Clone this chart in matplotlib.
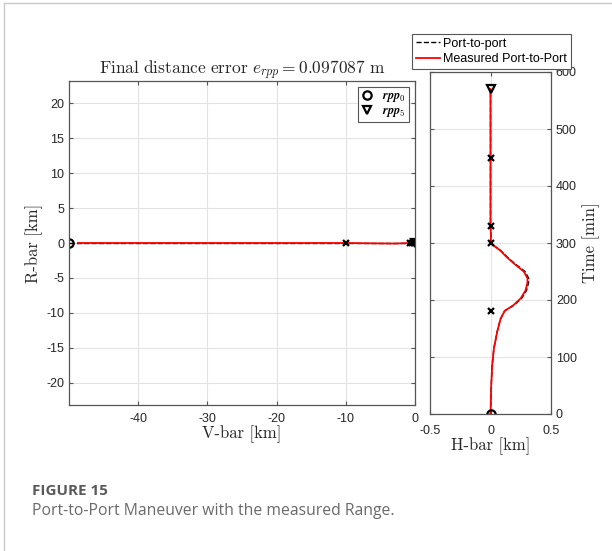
import matplotlib
matplotlib.use("Agg")
import matplotlib.pyplot as plt
from matplotlib.lines import Line2D
import numpy as np

plt.rcParams["mathtext.fontset"] = "cm"
plt.rcParams["font.family"] = ["Liberation Sans", "DejaVu Sans"]
plt.rcParams["axes.unicode_minus"] = False

# ---- trajectory in the V-bar / R-bar plane [km] ----
vbar_ref = [-50.0, -30.0, -10.0, -3.0, -0.7, -0.4, -0.15, 0.0]
rbar_ref = [0.0, 0.0, 0.0, 0.0, 0.0, 0.0, 0.0, 0.0]
vbar_meas = [-48.7, -30.0, -10.0, -3.0, -0.7, -0.4, -0.15, 0.0]
rbar_meas = [0.0, 0.0, 0.0, -0.08, 0.0, 0.0, 0.0, 0.0]

# waypoints rpp0..rpp5
wp_vbar = [-50.0, -10.0, -0.7, -0.4, -0.15, 0.0]
wp_rbar = [0.0, 0.0, 0.0, 0.0, 0.0, 0.0]
wp_time = [0, 180, 300, 330, 450, 570]
wp_hbar = [0.0, 0.0, 0.0, 0.0, 0.0, 0.0]

# ---- cross-track H-bar [km] over time [min] ----
t_ref = [0, 50, 85, 115, 145, 167, 181, 191, 203, 217, 230, 238, 250, 264,
         275, 287, 295, 300, 310, 330, 450, 570]
h_ref = [0.0, 0.006, 0.014, 0.028, 0.056, 0.083, 0.118, 0.195, 0.258, 0.298,
         0.314, 0.316, 0.285, 0.2, 0.14, 0.083, 0.03, 0.0, 0.004, 0.0, 0.0, 0.0]
t_meas = [0, 50, 85, 115, 145, 167, 181, 191, 203, 217, 230, 238, 250, 264,
          275, 287, 295, 300, 310, 330, 450, 570]
h_meas = [0.0, 0.006, 0.014, 0.028, 0.056, 0.083, 0.117, 0.19, 0.25, 0.29,
          0.305, 0.306, 0.275, 0.194, 0.135, 0.08, 0.03, 0.0, 0.004, 0.0, 0.0, 0.0]

title_txt = r"$\mathrm{Final\ distance\ error}\ e_{rpp} = 0.097087\ \mathrm{m}$"

axcol = "#555555"
txtcol = "#262626"
gridcol = "#e3e3e3"

fig = plt.figure(figsize=(6.12, 5.51), dpi=100)

# card frame lines
fig.add_artist(Line2D([4 / 612, 4 / 612], [0, 1 - 3 / 551], color="#c8c8c8", lw=1.0))
fig.add_artist(Line2D([4 / 612, 1], [1 - 3 / 551, 1 - 3 / 551], color="#c8c8c8", lw=1.0))


def style_axes(ax):
    ax.grid(True, color=gridcol, lw=0.8)
    ax.set_axisbelow(True)
    for s in ax.spines.values():
        s.set_color(axcol)
        s.set_linewidth(0.9)
    ax.tick_params(direction="in", length=3, color=axcol, labelcolor=txtcol,
                   labelsize=9, top=True, right=True)


# left: V-bar / R-bar
ax1 = fig.add_axes([69 / 612, 1 - 405 / 551, 346 / 612, 324 / 551])
style_axes(ax1)
ax1.tick_params(axis="x", pad=6)
ax1.plot(vbar_ref, rbar_ref, "--", color="black", lw=1.0)
ax1.plot(vbar_meas, rbar_meas, "-", color="red", lw=1.3)
ax1.plot(wp_vbar[1:-1], wp_rbar[1:-1], "x", color="black", ms=5, mew=1.6)
h0, = ax1.plot(wp_vbar[0], wp_rbar[0], "o", mfc="none", mec="black", ms=6, mew=1.6)
h5, = ax1.plot(wp_vbar[-1], wp_rbar[-1], "v", mfc="none", mec="black", ms=6, mew=1.6)
ax1.set_xlim(-50, 0)
ax1.set_ylim(-23.2, 23.2)
ax1.set_xticks([-40, -30, -20, -10, 0])
ax1.set_yticks([-20, -15, -10, -5, 0, 5, 10, 15, 20])
ax1.set_xlabel("V-bar [km]", fontfamily="cmr10", fontsize=12, color=txtcol, labelpad=0)
ax1.set_ylabel("R-bar [km]", fontfamily="cmr10", fontsize=12, color=txtcol, labelpad=2)
ax1.set_title(title_txt, fontsize=12.5, color=txtcol, pad=5)
leg1 = ax1.legend([h0, h5], [r"$\boldsymbol{rpp}_0$", r"$\boldsymbol{rpp}_5$"],
                  loc="upper right", fontsize=8.8, fancybox=False, edgecolor=axcol,
                  handlelength=1.0, handletextpad=0.7, borderpad=0.25,
                  labelspacing=0.1, borderaxespad=0.5, framealpha=1)
leg1.get_frame().set_linewidth(0.8)

# right: H-bar over time
ax2 = fig.add_axes([430 / 612, 1 - 414 / 551, 121 / 612, 342 / 551])
style_axes(ax2)
ax2.tick_params(axis="x", pad=8)
l_ref, = ax2.plot(h_ref, t_ref, "--", color="black", lw=1.0)
l_meas, = ax2.plot(h_meas, t_meas, "-", color="red", lw=1.3)
ax2.plot(wp_hbar[1:-1], wp_time[1:-1], "x", color="black", ms=5, mew=1.6)
ax2.plot(wp_hbar[0], wp_time[0], "o", mfc="none", mec="black", ms=6, mew=1.6)
ax2.plot(wp_hbar[-1], wp_time[-1], "v", mfc="none", mec="black", ms=6, mew=1.6)
ax2.set_xlim(-0.5, 0.5)
ax2.set_ylim(0, 600)
ax2.set_xticks([-0.5, 0, 0.5])
ax2.set_xticklabels(["-0.5", "0", "0.5"])
ax2.set_yticks([0, 100, 200, 300, 400, 500, 600])
ax2.yaxis.tick_right()
ax2.yaxis.set_label_position("right")
ax2.tick_params(left=True, labelleft=False, labelright=True)
ax2.set_xlabel("H-bar [km]", fontfamily="cmr10", fontsize=12, color=txtcol, labelpad=0)
ax2.set_ylabel("Time [min]", fontfamily="cmr10", fontsize=12, color=txtcol,
               rotation=90, labelpad=4)

leg2 = fig.legend([l_ref, l_meas], ["Port-to-port", "Measured Port-to-Port"],
                  loc="upper left", bbox_to_anchor=(412 / 612, 1 - 34 / 551),
                  fontsize=9, fancybox=False, edgecolor=axcol, framealpha=1,
                  handlelength=1.9, handletextpad=0.3, borderpad=0.3,
                  labelspacing=0.3, borderaxespad=0)
leg2.get_frame().set_linewidth(0.8)

# caption
fig.text(32 / 612, 1 - 491 / 551, "FIGURE 15", fontfamily="Open Sans",
         fontweight="bold", fontsize=11, color="#5a5a5a", va="center")
fig.text(32 / 612, 1 - 511 / 551, "Port-to-Port Maneuver with the measured Range.",
         fontfamily="Open Sans", fontsize=11.3, color="#6a6a6a", va="center")

fig.savefig("out.png", dpi=100)
